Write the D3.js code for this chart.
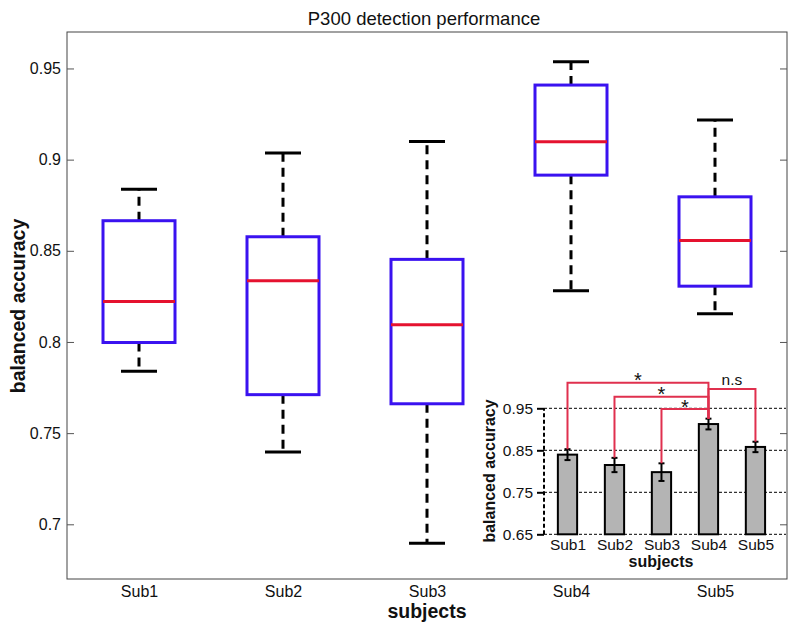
<!DOCTYPE html>
<html><head><meta charset="utf-8">
<script src="https://cdn.jsdelivr.net/npm/d3@7"></script>
<style>
html,body{margin:0;padding:0;background:#fff;}
svg{display:block;font-family:"Liberation Sans",Arial,Helvetica,sans-serif;}
</style></head>
<body>
<svg id="chart" width="794" height="627"></svg>
<script>
// ---- data ----
const subjects = ["Sub1", "Sub2", "Sub3", "Sub4", "Sub5"];
const whiskerLow  = [0.784, 0.7396, 0.6896, 0.8281, 0.8155];
const quartile1   = [0.7997, 0.7711, 0.7661, 0.8915, 0.8306];
const medians     = [0.8222, 0.8336, 0.8094, 0.9098, 0.8557];
const quartile3   = [0.8665, 0.8577, 0.8453, 0.9409, 0.8796];
const whiskerHigh = [0.8838, 0.9036, 0.9100, 0.9537, 0.9217];
const mainTicks = [0.7, 0.75, 0.8, 0.85, 0.9, 0.95];
const mainTickLabels = ["0.7", "0.75", "0.8", "0.85", "0.9", "0.95"];

const insetMeans = [0.8397, 0.815, 0.798, 0.9125, 0.858];
const insetErrors = [0.013, 0.017, 0.021, 0.0128, 0.0124];
const insetTicks = [0.65, 0.75, 0.85, 0.95];
const insetTickLabels = ["0.65", "0.75", "0.85", "0.95"];
const bracketFrom = [0, 1, 2, 3];
const bracketTo = [3, 3, 3, 4];
const bracketLevel = [1.011, 0.9776, 0.9483, 0.996];
const bracketLabel = ["*", "*", "*", "n.s"];

// ---- main chart ----
const svg = d3.select("#chart");
const L = 67, R = 787, T = 32, B = 579;
const x = d3.scaleLinear().domain([0.5, 5.5]).range([L, R]);
const y = d3.scaleLinear().domain([0.67, 0.97]).range([B, T]);
const BLUE = "#3a12f0", RED = "#e5122f", BRED = "#e0304e";

svg.append("rect").attr("x", L).attr("y", T).attr("width", R - L).attr("height", B - T)
  .attr("fill", "none").attr("stroke", "#444").attr("stroke-width", 1);

const yAx = svg.append("g").attr("transform", `translate(${L},0)`)
  .call(d3.axisLeft(y).tickValues(mainTicks).tickFormat((d, i) => mainTickLabels[i]).tickSize(-7).tickPadding(6));
yAx.select(".domain").remove();
yAx.selectAll("line").attr("stroke", "#555");
yAx.selectAll("text").attr("font-size", 16).attr("fill", "#111").attr("font-family", "Liberation Sans, Arial, sans-serif");

const yAxR = svg.append("g").attr("transform", `translate(${R},0)`)
  .call(d3.axisRight(y).tickValues(mainTicks).tickFormat("").tickSize(-7));
yAxR.select(".domain").remove();
yAxR.selectAll("line").attr("stroke", "#555");

const xAx = svg.append("g").attr("transform", `translate(0,${B})`)
  .call(d3.axisBottom(x).tickValues([1, 2, 3, 4, 5]).tickFormat((d, i) => subjects[i]).tickSize(0).tickPadding(7));
xAx.select(".domain").remove();
xAx.selectAll("text").attr("font-size", 16).attr("fill", "#111").attr("font-family", "Liberation Sans, Arial, sans-serif");

svg.append("text").attr("x", 424).attr("y", 25).attr("text-anchor", "middle")
  .attr("font-size", 18.5).attr("fill", "#111").text("P300 detection performance");
svg.append("text").attr("x", 427).attr("y", 618).attr("text-anchor", "middle")
  .attr("font-size", 19.5).attr("font-weight", "bold").attr("fill", "#111").text("subjects");
svg.append("text").attr("transform", "translate(18,306) rotate(-90)").attr("text-anchor", "middle")
  .attr("dominant-baseline", "central")
  .attr("font-size", 19.5).attr("font-weight", "bold").attr("fill", "#111").text("balanced accuracy");

const boxW = 0.5, capW = 0.25;
const boxes = svg.append("g").selectAll("g").data(subjects).join("g");
boxes.each(function (s, i) {
  const g = d3.select(this);
  const c = i + 1;
  g.append("line").attr("x1", x(c)).attr("x2", x(c)).attr("y1", y(quartile3[i])).attr("y2", y(whiskerHigh[i]))
    .attr("stroke", "#000").attr("stroke-width", 3).attr("stroke-dasharray", "9,6");
  g.append("line").attr("x1", x(c)).attr("x2", x(c)).attr("y1", y(quartile1[i])).attr("y2", y(whiskerLow[i]))
    .attr("stroke", "#000").attr("stroke-width", 3).attr("stroke-dasharray", "9,6");
  [whiskerHigh[i], whiskerLow[i]].forEach(v => {
    g.append("line").attr("x1", x(c - capW / 2)).attr("x2", x(c + capW / 2)).attr("y1", y(v)).attr("y2", y(v))
      .attr("stroke", "#000").attr("stroke-width", 3);
  });
  g.append("rect").attr("x", x(c - boxW / 2)).attr("width", x(c + boxW / 2) - x(c - boxW / 2))
    .attr("y", y(quartile3[i])).attr("height", y(quartile1[i]) - y(quartile3[i]))
    .attr("fill", "none").attr("stroke", BLUE).attr("stroke-width", 3);
  g.append("line").attr("x1", x(c - boxW / 2)).attr("x2", x(c + boxW / 2)).attr("y1", y(medians[i])).attr("y2", y(medians[i]))
    .attr("stroke", RED).attr("stroke-width", 3);
});

// ---- inset ----
const iL = 544, iR = 786, iB = 534.3;
const ix = d3.scaleLinear().domain([0.5, 5.65]).range([iL, iR]);
const iy = d3.scaleLinear().domain([0.65, 0.95]).range([iB, iB - 126]);
const inset = svg.append("g");

inset.selectAll("line.grid").data(insetTicks).join("line").attr("class", "grid")
  .attr("x1", iL).attr("x2", iR).attr("y1", d => iy(d)).attr("y2", d => iy(d))
  .attr("stroke", "#000").attr("stroke-width", 1).attr("stroke-dasharray", "3,2");
inset.append("line").attr("x1", iL).attr("x2", iL).attr("y1", iy(0.65)).attr("y2", iy(0.95))
  .attr("stroke", "#000").attr("stroke-width", 2).attr("stroke-dasharray", "4,2.5");

const iyAx = inset.append("g").attr("transform", `translate(${iL},0)`)
  .call(d3.axisLeft(iy).tickValues(insetTicks).tickFormat((d, i) => insetTickLabels[i]).tickSize(7).tickPadding(4));
iyAx.select(".domain").remove();
iyAx.selectAll("line").attr("stroke", "#000").attr("stroke-width", 2);
iyAx.selectAll("text").attr("font-size", 15.5).attr("fill", "#111").attr("font-family", "Liberation Sans, Arial, sans-serif");

const ixAx = inset.append("g").attr("transform", `translate(0,${iB})`)
  .call(d3.axisBottom(ix).tickValues([1, 2, 3, 4, 5]).tickFormat((d, i) => subjects[i]).tickSize(0).tickPadding(5));
ixAx.select(".domain").remove();
ixAx.selectAll("text").attr("font-size", 15.5).attr("fill", "#111").attr("font-family", "Liberation Sans, Arial, sans-serif");

inset.append("text").attr("x", 661).attr("y", 567).attr("text-anchor", "middle")
  .attr("font-size", 16).attr("font-weight", "bold").attr("fill", "#111").text("subjects");
inset.append("text").attr("transform", "translate(489,471) rotate(-90)").attr("text-anchor", "middle")
  .attr("dominant-baseline", "central")
  .attr("font-size", 16).attr("font-weight", "bold").attr("fill", "#111").text("balanced accuracy");

const barW = 0.41;
inset.selectAll("rect.bar").data(insetMeans).join("rect").attr("class", "bar")
  .attr("x", (d, i) => ix(i + 1 - barW / 2)).attr("width", ix(1 + barW / 2) - ix(1 - barW / 2))
  .attr("y", d => iy(d)).attr("height", d => iy(0.65) - iy(d))
  .attr("fill", "#b4b4b4").attr("stroke", "#000").attr("stroke-width", 2);

insetMeans.forEach((m, i) => {
  const cx = ix(i + 1), e = insetErrors[i];
  inset.append("line").attr("x1", cx).attr("x2", cx).attr("y1", iy(m - e)).attr("y2", iy(m + e))
    .attr("stroke", "#000").attr("stroke-width", 2);
  [m - e, m + e].forEach(v => inset.append("line").attr("x1", cx - 3).attr("x2", cx + 3)
    .attr("y1", iy(v)).attr("y2", iy(v)).attr("stroke", "#000").attr("stroke-width", 2));
});

bracketFrom.forEach((a, k) => {
  const b = bracketTo[k];
  const ya = iy(insetMeans[a] + insetErrors[a]);
  const yb = iy(insetMeans[b] + insetErrors[b]);
  const yl = iy(bracketLevel[k]);
  const xa = ix(a + 1), xb = ix(b + 1);
  inset.append("path").attr("d", `M${xa},${ya}V${yl}H${xb}V${yb}`)
    .attr("fill", "none").attr("stroke", BRED).attr("stroke-width", 2);
  const isStar = bracketLabel[k] === "*";
  inset.append("text").attr("x", (xa + xb) / 2).attr("y", isStar ? yl + 4.5 : yl - 4)
    .attr("text-anchor", "middle").attr("font-size", isStar ? 20 : 15.5).attr("fill", "#111")
    .text(bracketLabel[k]);
});
</script>
</body></html>
